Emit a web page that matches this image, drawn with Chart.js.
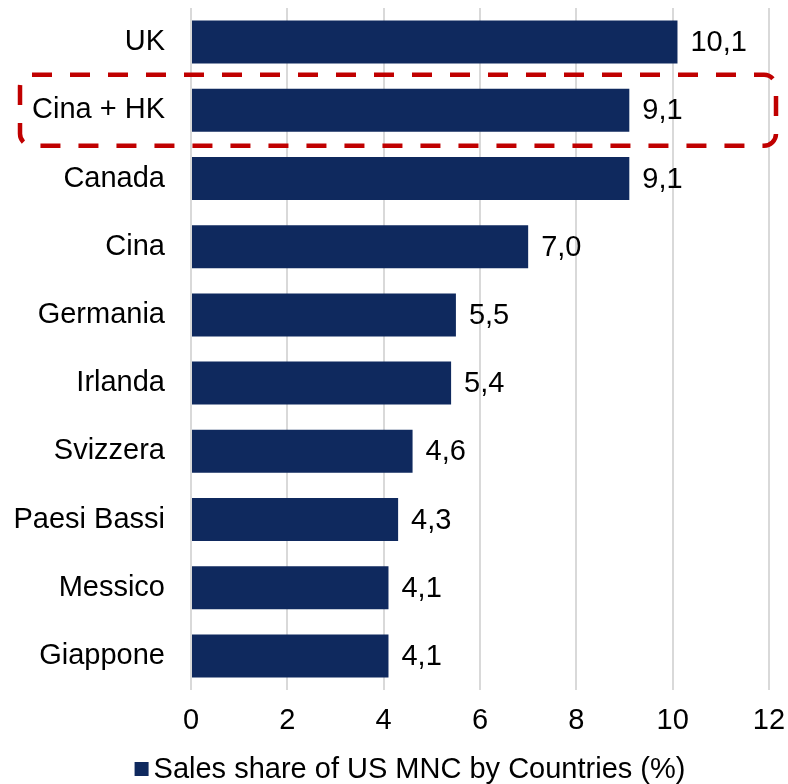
<!DOCTYPE html>
<html><head><meta charset="utf-8">
<script src="https://cdn.jsdelivr.net/npm/chart.js@4"></script>
<style>html,body{margin:0;padding:0;background:#fff}#w{width:788px;height:784px}</style>
</head><body><div id="w"><canvas id="c"></canvas></div>
<script>
const categories = ["UK","Cina + HK","Canada","Cina","Germania","Irlanda","Svizzera","Paesi Bassi","Messico","Giappone"];
const salesShare = [10.1,9.1,9.1,7.0,5.5,5.4,4.6,4.3,4.1,4.1];
const xTicks = [0,2,4,6,8,10,12];
const seriesLabel = "Sales share of US MNC by Countries (%)";
const highlightIndex = 1;

const FONT = "'Liberation Sans', Arial, sans-serif";
const FS = 29;
const NAVY = "#0f295e";

const valueLabels = {
  id:'valueLabels',
  afterDatasetsDraw(chart){
    const ctx = chart.ctx;
    const meta = chart.getDatasetMeta(0);
    ctx.save();
    ctx.font = FS + "px " + FONT;
    ctx.fillStyle = "#000";
    ctx.textAlign = "left";
    ctx.textBaseline = "middle";
    meta.data.forEach((bar,i)=>{
      ctx.fillText(salesShare[i].toFixed(1).replace('.',','), bar.x + 13, bar.y + 1);
    });
    ctx.restore();
  }
};

const highlightBox = {
  id:'highlightBox',
  afterDraw(chart){
    const ctx = chart.ctx;
    const y = chart.scales.y;
    const cy = y.getPixelForValue(highlightIndex);
    const half = 35.5;
    const x0 = 20, x1 = chart.chartArea.right + 7;
    const y0 = cy - half, y1 = cy + half;
    ctx.save();
    ctx.strokeStyle = "#c00000";
    ctx.lineWidth = 4.5;
    ctx.setLineDash([20,18]);
    ctx.beginPath();
    if (ctx.roundRect) ctx.roundRect(x0,y0,x1-x0,y1-y0,12); else ctx.rect(x0,y0,x1-x0,y1-y0);
    ctx.stroke();
    ctx.restore();
  }
};

const customLegend = {
  id:'customLegend',
  afterDraw(chart){
    const ctx = chart.ctx;
    const ds = chart.data.datasets[0];
    ctx.save();
    ctx.font = FS + "px " + FONT;
    const tw = ctx.measureText(ds.label).width;
    const box = 14, gap = 5;
    const total = box + gap + tw;
    const cx = 410;
    const x = cx - total/2;
    const cy = 769;
    ctx.fillStyle = ds.backgroundColor;
    ctx.fillRect(x, cy - box/2, box, box);
    ctx.fillStyle = "#000";
    ctx.textAlign = "left";
    ctx.textBaseline = "middle";
    ctx.fillText(ds.label, x + box + gap, cy + 1);
    ctx.restore();
  }
};

new Chart(document.getElementById('c'), {
  type:'bar',
  data:{
    labels:categories,
    datasets:[{
      label:seriesLabel,
      data:salesShare,
      backgroundColor:NAVY,
      borderWidth:0,
      barPercentage:0.63,
      categoryPercentage:1.0
    }]
  },
  options:{
    indexAxis:'y',
    responsive:true,
    maintainAspectRatio:false,
    animation:false,
    layout:{padding:{top:8,right:19,bottom:29,left:0}},
    scales:{
      x:{
        min:0,max:12,
        afterBuildTicks(s){ s.ticks = xTicks.map(v=>({value:v})); },
        afterFit(s){ s.height = 65; s.paddingLeft = 0; s.paddingRight = 0; },
        grid:{color:"#d9d9d9",lineWidth:2,drawTicks:false},
        border:{display:false},
        ticks:{font:{family:FONT,size:FS},color:"#000",padding:14,maxRotation:0}
      },
      y:{
        grid:{display:false,drawTicks:false},
        border:{display:false},
        afterFit(s){ s.width = 191; s.paddingTop = 0; s.paddingBottom = 0; },
        ticks:{font:{family:FONT,size:FS},color:"#000",padding:26,autoSkip:false}
      }
    },
    plugins:{
      legend:{display:false},
      tooltip:{enabled:false}
    }
  },
  plugins:[valueLabels,highlightBox,customLegend]
});
</script>
</body></html>
